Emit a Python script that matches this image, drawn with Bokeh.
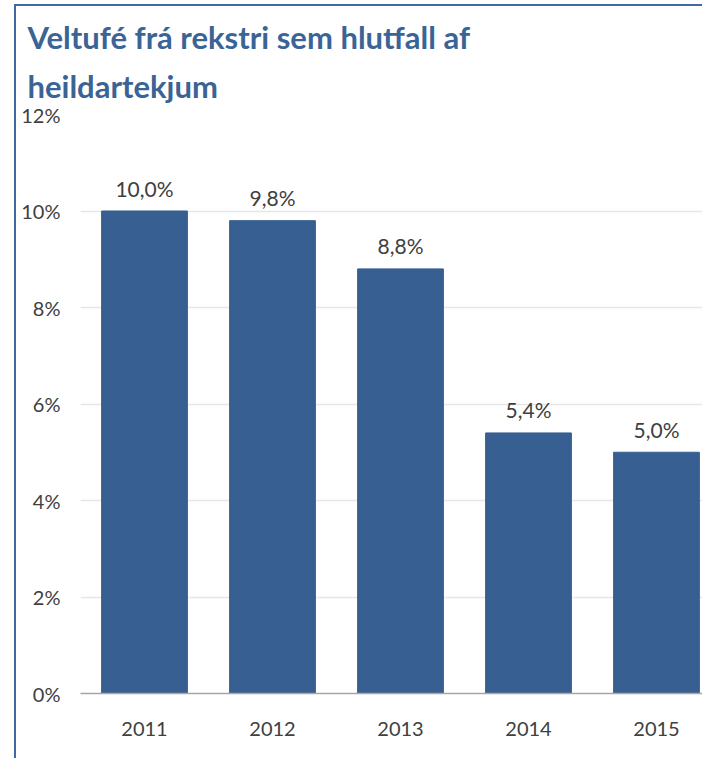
from bokeh.plotting import figure
from bokeh.models import Range1d, FixedTicker, Title, ColumnDataSource
from bokeh.embed import file_html
from bokeh.resources import INLINE
from bokeh.core.properties import value

years = ["2011", "2012", "2013", "2014", "2015"]
shares = [10.0, 9.8, 8.8, 5.4, 5.0]
y_ticks = [0, 2, 4, 6, 8, 10, 12]

positions = list(range(len(years)))
labels = [f"{v:.1f}".replace(".", ",") + "%" for v in shares]
source = ColumnDataSource(dict(x=positions, top=shares, label=labels))

BLUE = "#375F91"
TEXT = "#404040"
FONT = "Lato"
BORDER = "#3F6AA0"

W = 688
p = figure(width=W, height=754, output_backend="svg", toolbar_location=None,
           x_range=Range1d(-0.5, -0.5 + (W - 64) / 128), y_range=Range1d(0, 12),
           min_border_left=64, min_border_right=0, min_border_top=108,
           min_border_bottom=67)
p.styles = {"margin-left": "14px", "margin-top": "4px",
            "border-left": f"2px solid {BORDER}", "border-top": f"2px solid {BORDER}"}

p.vbar(x="x", top="top", width=0.67, color=BLUE, source=source)
p.text(x="x", y="top", text="label", source=source, text_align="center",
       text_baseline="alphabetic", y_offset=-23, text_color=TEXT,
       text_font=value(FONT), text_font_size="21px")

p.outline_line_color = None
p.xgrid.grid_line_color = None
p.ygrid.grid_line_color = "#E6E6E6"
p.ygrid.grid_line_width = 1.5
p.ygrid.ticker = FixedTicker(ticks=y_ticks)

p.yaxis.ticker = FixedTicker(ticks=y_ticks)
p.yaxis.major_label_overrides = {t: f"{t}%" for t in y_ticks}
p.yaxis.axis_line_color = None
p.yaxis.major_tick_line_color = None
p.yaxis.minor_tick_line_color = None
p.yaxis.major_label_standoff = 14
p.yaxis.major_label_text_font = FONT
p.yaxis.major_label_text_font_size = "20px"
p.yaxis.major_label_text_color = TEXT

p.xaxis.ticker = FixedTicker(ticks=positions)
p.xaxis.major_label_overrides = {i: y for i, y in zip(positions, years)}
p.xaxis.axis_line_color = "#A6A6A6"
p.xaxis.axis_line_width = 1.5
p.xaxis.major_tick_line_color = None
p.xaxis.minor_tick_line_color = None
p.xaxis.major_label_standoff = 22
p.xaxis.major_label_text_font = FONT
p.xaxis.major_label_text_font_size = "20px"
p.xaxis.major_label_text_color = TEXT

title2 = Title(text="heildartekjum", align="left", offset=-53, standoff=19,
               text_font=FONT, text_font_size="31px", text_font_style="bold",
               text_color="#3A6496")
title1 = Title(text="Veltufé frá rekstri sem hlutfall af", align="left", offset=-53,
               standoff=0, text_font=FONT, text_font_size="31px",
               text_font_style="bold", text_color="#3A6496")
p.add_layout(title2, "above")
p.add_layout(title1, "above")

open("out.html", "w").write(file_html(p, INLINE))
